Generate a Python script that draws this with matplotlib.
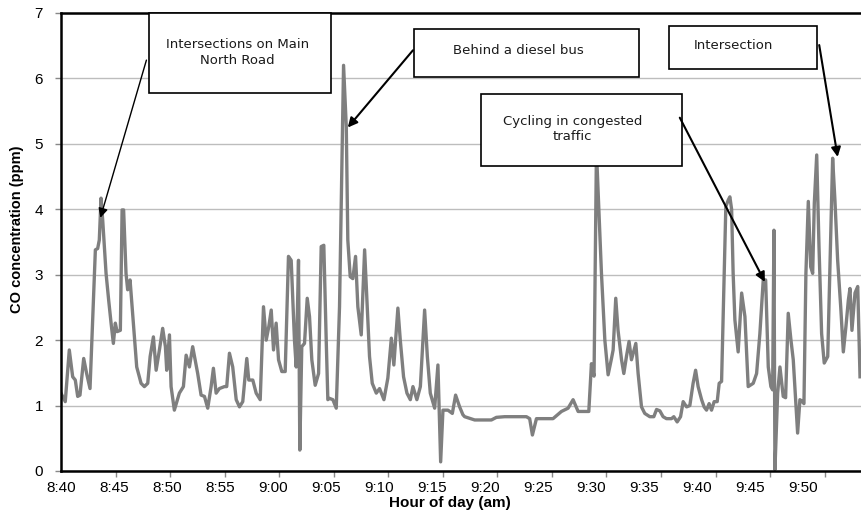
import matplotlib.pyplot as plt
from matplotlib.patches import Rectangle

# minutes after 8:40 and CO reading (ppm)
minutes = [
    0.00, 0.39, 0.76, 1.07, 1.31, 1.53, 1.74, 2.08, 2.35, 2.66, 3.15, 3.36, 3.51, 3.67, 3.82,
    4.13, 4.37, 4.59, 4.80, 4.98, 5.14, 5.44, 5.60, 5.74, 5.96, 6.11, 6.33, 6.63, 6.94, 7.34,
    7.64, 7.95, 8.17, 8.47, 8.72, 9.02, 9.32, 9.57, 9.69, 9.94, 10.09, 10.39, 10.85, 11.22,
    11.47, 11.77, 12.07, 12.53, 12.84, 13.15, 13.45, 13.76, 13.97, 14.22, 14.52, 14.98, 15.19,
    15.44, 15.74, 16.06, 16.36, 16.66, 17.03, 17.21, 17.58, 17.89, 18.26, 18.56, 18.81, 19.05,
    19.27, 19.48, 19.72, 19.94, 20.24, 20.55, 20.85, 21.10, 21.40, 21.56, 21.77, 21.89, 22.07,
    22.32, 22.57, 22.78, 22.99, 23.30, 23.61, 23.85, 24.09, 24.31, 24.46, 24.61, 24.92, 25.23,
    25.53, 25.90, 26.15, 26.29, 26.51, 26.75, 27.00, 27.21, 27.52, 27.83, 28.04, 28.28, 28.53,
    28.90, 29.20, 29.60, 29.96, 30.28, 30.51, 30.88, 31.10, 31.40, 31.71, 32.02, 32.26, 32.62,
    32.94, 33.33, 33.58, 33.85, 34.25, 34.55, 34.80, 35.01, 35.47, 35.87, 36.17, 36.54, 36.84,
    37.00, 37.92, 39.45, 39.91, 40.67, 42.66, 42.96, 43.21, 43.58, 45.10, 45.87, 46.48, 46.94,
    47.40, 48.38, 48.62, 48.86, 49.08, 49.54, 49.85, 50.15, 50.46, 50.61, 50.85, 51.06, 51.38,
    51.59, 51.83, 52.07, 52.29, 52.69, 52.90, 53.21, 53.51, 53.97, 54.34, 54.59, 54.89, 55.19,
    55.50, 55.96, 56.17, 56.48, 56.79, 57.03, 57.34, 57.64, 57.94, 58.17, 58.40, 58.72, 58.95,
    59.17, 59.41, 59.63, 59.87, 60.15, 60.33, 60.55, 60.94, 61.16, 61.31, 61.47, 61.61, 61.77,
    62.07, 62.39, 62.69, 62.99, 63.45, 63.76, 64.06, 64.37, 64.59, 64.83, 65.07, 65.23, 65.35,
    65.44, 65.69, 65.90, 66.20, 66.42, 66.66, 66.91, 67.12, 67.34, 67.52, 67.73, 67.89, 68.10,
    68.28, 68.50, 68.72, 68.90, 69.05, 69.27, 69.48, 69.72, 69.96, 70.28, 70.55, 70.73, 70.94,
    71.19, 71.47, 71.71, 71.95, 72.17, 72.32, 72.50, 72.78, 73.03, 73.24,
]
co_ppm = [
    1.19, 1.06, 1.85, 1.44, 1.39, 1.14, 1.16, 1.72, 1.49, 1.26, 3.38, 3.40, 3.53, 4.17, 3.84,
    3.02, 2.61, 2.26, 1.95, 2.26, 2.13, 2.15, 3.99, 3.99, 3.02, 2.77, 2.92, 2.26, 1.59, 1.34,
    1.29, 1.34, 1.75, 2.05, 1.54, 1.85, 2.18, 1.90, 1.54, 2.08, 1.29, 0.93, 1.19, 1.29,
    1.77, 1.59, 1.90, 1.49, 1.16, 1.14, 0.96, 1.29, 1.57, 1.19, 1.26, 1.29, 1.29,
    1.80, 1.59, 1.09, 0.98, 1.06, 1.72, 1.39, 1.39, 1.19, 1.09, 2.51, 2.00, 2.21,
    2.46, 1.85, 2.26, 1.70, 1.52, 1.52, 3.28, 3.22, 2.00, 1.59, 3.22, 0.32, 1.90,
    1.95, 2.64, 2.36, 1.70, 1.31, 1.49, 3.43, 3.45, 2.00, 1.09, 1.11, 1.09, 0.96,
    2.51, 6.20, 5.26, 3.53, 2.97, 2.94, 3.28, 2.51, 2.08, 3.38, 2.61, 1.75, 1.34,
    1.19, 1.26, 1.09, 1.42, 2.03, 1.62, 2.49, 2.00, 1.44, 1.19, 1.09, 1.29, 1.09,
    1.29, 2.46, 1.75, 1.19, 0.96, 1.62, 0.14, 0.93, 0.93, 0.88, 1.16, 0.98, 0.86,
    0.83, 0.78, 0.78, 0.82, 0.83, 0.83, 0.80, 0.55, 0.80, 0.80, 0.91, 0.96, 1.09,
    0.91, 0.91, 1.64, 1.45, 4.90, 3.02, 2.00, 1.47, 1.72, 1.85, 2.64, 2.15, 1.70,
    1.49, 1.75, 1.98, 1.70, 1.95, 1.49, 0.98, 0.88, 0.83, 0.83, 0.94, 0.92, 0.83,
    0.80, 0.80, 0.83, 0.75, 0.83, 1.06, 0.98, 1.00, 1.34, 1.54, 1.29, 1.09, 0.98,
    0.93, 1.03, 0.93, 1.06, 1.06, 1.34, 1.37, 4.04, 4.14, 4.19, 4.00, 3.02, 2.31,
    1.82, 2.72, 2.36, 1.29, 1.34, 1.49, 2.10, 2.92, 2.92, 1.59, 1.29, 1.24, 3.68,
    0.02, 1.19, 1.59, 1.14, 1.12, 2.41, 2.00, 1.70, 1.09, 0.58, 1.09, 1.07, 1.03,
    3.02, 4.12, 3.12, 3.02, 4.09, 4.83, 3.43, 2.10, 1.65, 1.75, 3.53, 4.78, 4.14,
    3.22, 2.51, 1.82, 2.21, 2.61, 2.79, 2.15, 2.72, 2.82, 1.44,
]

tick_labels = ['8:40', '8:45', '8:50', '8:55', '9:00', '9:05', '9:10', '9:15',
               '9:20', '9:25', '9:30', '9:35', '9:40', '9:45', '9:50']
# the original chart puts its tick marks every 5 min but spaces its labels a bit tighter
mark_step = 5.0
label_step = 4.86

# callouts: text, box corners (x0, y0, x1, y1), text centre, arrow start, arrow tip, line width
callouts = [
    ('Intersections on Main\nNorth Road', (8.10, 5.78, 24.71, 7.0), (16.2, 6.40), (7.83, 6.28), (3.61, 3.87), 1.0),
    ('Behind a diesel bus', (32.32, 6.02, 52.96, 6.75), (41.9, 6.42), (32.26, 6.43), (26.29, 5.25), 1.5),
    ('Cycling in congested\ntraffic', (38.53, 4.66, 56.88, 5.76), (46.9, 5.23), (56.72, 5.40), (64.52, 2.89), 1.5),
    ('Intersection', (55.74, 6.15, 69.27, 6.80), (61.6, 6.51), (69.5, 6.51), (71.19, 4.80), 1.5),
]

fig = plt.figure(figsize=(8.61, 5.14), dpi=100)
ax = fig.add_axes([61 / 861, 43 / 514, 800 / 861, 458 / 514])

ax.plot(minutes, co_ppm, color='#7f7f7f', lw=2.4, solid_joinstyle='round', zorder=2)

ax.set_xlim(0, 73.33)
ax.set_ylim(0, 7)
ax.set_yticks(range(0, 8))
ax.set_xticks([i * label_step for i in range(len(tick_labels))])
ax.set_xticklabels(tick_labels)
ax.set_xticks([i * mark_step for i in range(len(tick_labels))], minor=True)
ax.grid(axis='y', color='#bdbdbd', lw=1.0, zorder=0)

for s in ['left', 'top', 'bottom']:
    ax.spines[s].set_linewidth(1.8)
    ax.spines[s].set_color('black')
ax.spines['right'].set_visible(False)

ax.tick_params(axis='x', which='major', length=0, pad=7, labelsize=11)
ax.tick_params(axis='x', which='minor', direction='out', length=4, width=1, color='#888888')
ax.tick_params(axis='y', direction='out', length=4, width=1, color='#888888', pad=9,
               labelsize=11)
for lab in ax.get_xticklabels() + ax.get_yticklabels():
    lab.set_family('Liberation Sans')

ax.set_xlabel('Hour of day (am)', fontsize=11, fontweight='bold', family='Liberation Sans')
ax.xaxis.set_label_coords(0.486, -0.055)
fig.text(17 / 861, 1 - 229 / 514, 'CO concentration (ppm)', rotation=90, ha='center',
         va='center', fontsize=10.5, fontweight='bold', family='Liberation Sans')

for text, box, centre, start, tip, lw in callouts:
    x0, y0, x1, y1 = box
    ax.add_patch(Rectangle((x0, y0), x1 - x0, y1 - y0, facecolor='white',
                           edgecolor='black', lw=1.2, zorder=4, clip_on=False))
    ax.text(centre[0], centre[1], text, ha='center', va='center', fontsize=9.5,
            color='#1a1a1a', linespacing=1.25, zorder=5)
    ax.annotate('', xy=tip, xytext=start,
                arrowprops=dict(arrowstyle='-|>', color='black', lw=lw,
                                mutation_scale=14, shrinkA=0, shrinkB=0),
                zorder=6)

plt.savefig('out.png', dpi=100)
